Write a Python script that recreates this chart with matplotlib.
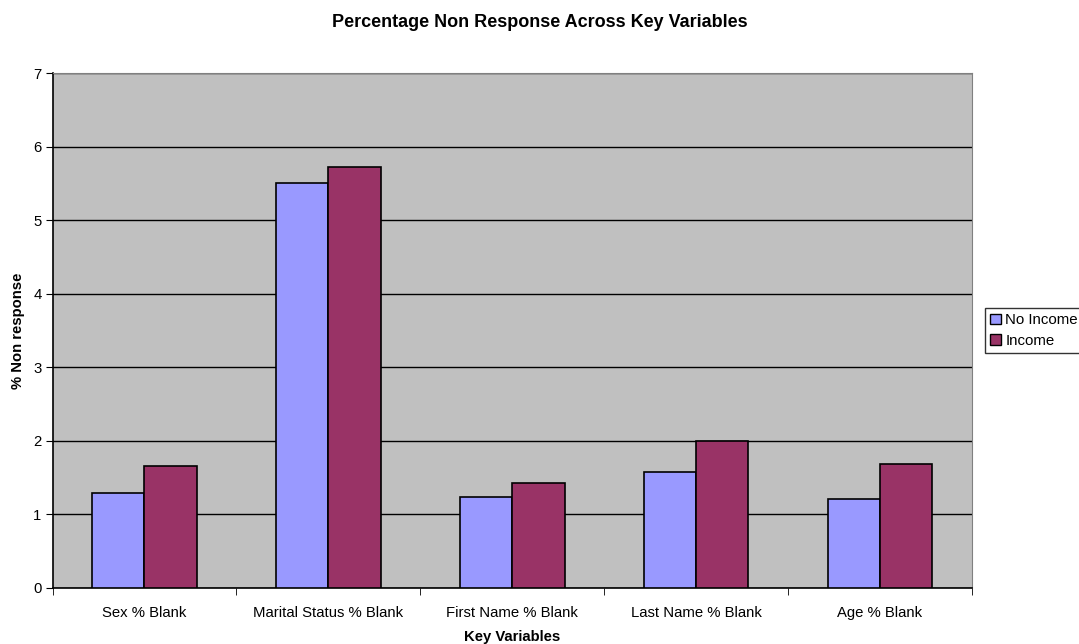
import numpy as np
import matplotlib.pyplot as plt
from matplotlib.patches import Patch

plt.rcParams['font.family'] = ['Liberation Sans', 'DejaVu Sans']

categories = ['Sex % Blank', 'Marital Status % Blank', 'First Name % Blank',
              'Last Name % Blank', 'Age % Blank']
no_income = [1.29, 5.50, 1.23, 1.58, 1.21]
income = [1.66, 5.72, 1.43, 2.00, 1.69]

fig = plt.figure(figsize=(10.79, 6.44), dpi=100)
ax = fig.add_axes([0.0487, 0.087, 0.852, 0.7996])
ax.set_facecolor('#C0C0C0')

x = np.arange(len(categories))
w = 0.285
ax.bar(x - w / 2, no_income, w, color='#9999FF', edgecolor='black', linewidth=1.2, zorder=3)
ax.bar(x + w / 2, income, w, color='#993366', edgecolor='black', linewidth=1.2, zorder=3)

ax.set_xlim(-0.5, len(categories) - 0.5)
ax.set_ylim(0, 7)
ax.set_yticks(range(0, 8))
ax.yaxis.grid(True, color='black', linewidth=1, zorder=1)
ax.set_axisbelow(True)

# category labels centred, tick marks at the boundaries
ax.set_xticks(x)
ax.set_xticklabels(categories, fontsize=10.7)
ax.set_xticks(np.arange(-0.5, len(categories) + 0.5), minor=True)
ax.tick_params(axis='x', which='major', length=0, pad=13)
ax.tick_params(axis='x', which='minor', length=5, direction='out', color='black')
ax.tick_params(axis='y', length=5, direction='out', labelsize=10.7, color='black', pad=3)

for s in ['top', 'right']:
    ax.spines[s].set_color('#808080')
for s in ['left', 'bottom']:
    ax.spines[s].set_color('black')
    ax.spines[s].set_linewidth(1.2)

ax.set_xlabel('Key Variables', fontsize=10.7, fontweight='bold', labelpad=7.5)
ax.set_ylabel('% Non response', fontsize=10.7, fontweight='bold', labelpad=6)
fig.text(0.5005, 0.965, 'Percentage Non Response Across Key Variables',
         ha='center', va='center', fontsize=13, fontweight='bold')

handles = [Patch(facecolor='#9999FF', edgecolor='black', label='No Income'),
           Patch(facecolor='#993366', edgecolor='black', label='Income')]
leg = fig.legend(handles=handles, loc='upper left', bbox_to_anchor=(0.913, 0.522),
                 fontsize=10.8, frameon=True, fancybox=False, handlelength=0.7,
                 handleheight=0.7, handletextpad=0.3, borderpad=0.35,
                 labelspacing=0.45, borderaxespad=0)
leg.get_frame().set_edgecolor('black')
leg.get_frame().set_linewidth(1)

fig.savefig('out.png', dpi=100)
